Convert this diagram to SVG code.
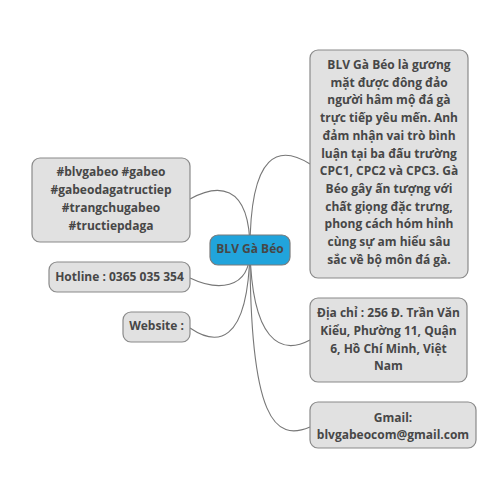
<svg xmlns="http://www.w3.org/2000/svg" width="500" height="500" viewBox="0 0 500 500">
<style>
.box{fill:#e1e1e1;stroke:#8a8a8a;stroke-width:1.2}
.center{fill:#21a4dc;stroke:#7a7a7a;stroke-width:1.2}
text{font-family:"Open Sans","Noto Sans","DejaVu Sans",sans-serif;font-weight:bold;font-size:12px;fill:#474747;text-anchor:middle}
.conn path{fill:none;stroke:#777;stroke-width:1.1}
</style>
<rect width="500" height="500" fill="#fff"/>
<g id="connectors" class="conn">
<path d="M250,250 C250,180 215,185 190,199"/>
<path d="M250,250 C250,150 280,145 310,164"/>
<path d="M250,250 C250,292 215,290 190,278"/>
<path d="M250,250 C248,348 215,345 190,328"/>
<path d="M250,250 C252,340 280,356 310,340"/>
<path d="M250,250 C250,420 275,442 310,427"/>
</g>
<g id="node-tags">
<rect class="box" x="32" y="158" width="158" height="84" rx="8"/>
<text x="111" y="176">#blvgabeo #gabeo</text>
<text x="111" y="194">#gabeodagatructiep</text>
<text x="111" y="212">#trangchugabeo</text>
<text x="111" y="230">#tructiepdaga</text>
</g>
<g id="node-hotline">
<rect class="box" x="49" y="262" width="141" height="30" rx="8"/>
<text x="119.5" y="281">Hotline : 0365 035 354</text>
</g>
<g id="node-website">
<rect class="box" x="123" y="312" width="67" height="30" rx="8"/>
<text x="156.5" y="330">Website :</text>
</g>
<g id="node-center">
<rect class="center" x="210" y="235" width="80" height="30" rx="8"/>
<text x="250" y="253">BLV Gà Béo</text>
</g>
<g id="node-bio">
<rect class="box" x="310" y="50" width="158" height="228" rx="8"/>
<text x="389" y="69">BLV Gà Béo là gương</text>
<text x="389" y="86.7">mặt được đông đảo</text>
<text x="389" y="104.4">người hâm mộ đá gà</text>
<text x="389" y="122.1">trực tiếp yêu mến. Anh</text>
<text x="389" y="139.8">đảm nhận vai trò bình</text>
<text x="389" y="157.5">luận tại ba đấu trường</text>
<text x="389" y="175.2">CPC1, CPC2 và CPC3. Gà</text>
<text x="389" y="192.9">Béo gây ấn tượng với</text>
<text x="389" y="210.6">chất giọng đặc trưng,</text>
<text x="389" y="228.3">phong cách hóm hỉnh</text>
<text x="389" y="246">cùng sự am hiểu sâu</text>
<text x="389" y="263.7">sắc về bộ môn đá gà.</text>
</g>
<g id="node-address">
<rect class="box" x="310" y="298" width="157" height="84" rx="8"/>
<text x="388.5" y="317">Địa chỉ : 256 Đ. Trần Văn</text>
<text x="388.5" y="335">Kiểu, Phường 11, Quận</text>
<text x="388.5" y="353">6, Hồ Chí Minh, Việt</text>
<text x="388.5" y="370">Nam</text>
</g>
<g id="node-gmail">
<rect class="box" x="310" y="402" width="166" height="46" rx="8"/>
<text x="393" y="422">Gmail:</text>
<text x="393" y="439">blvgabeocom@gmail.com</text>
</g>
</svg>
